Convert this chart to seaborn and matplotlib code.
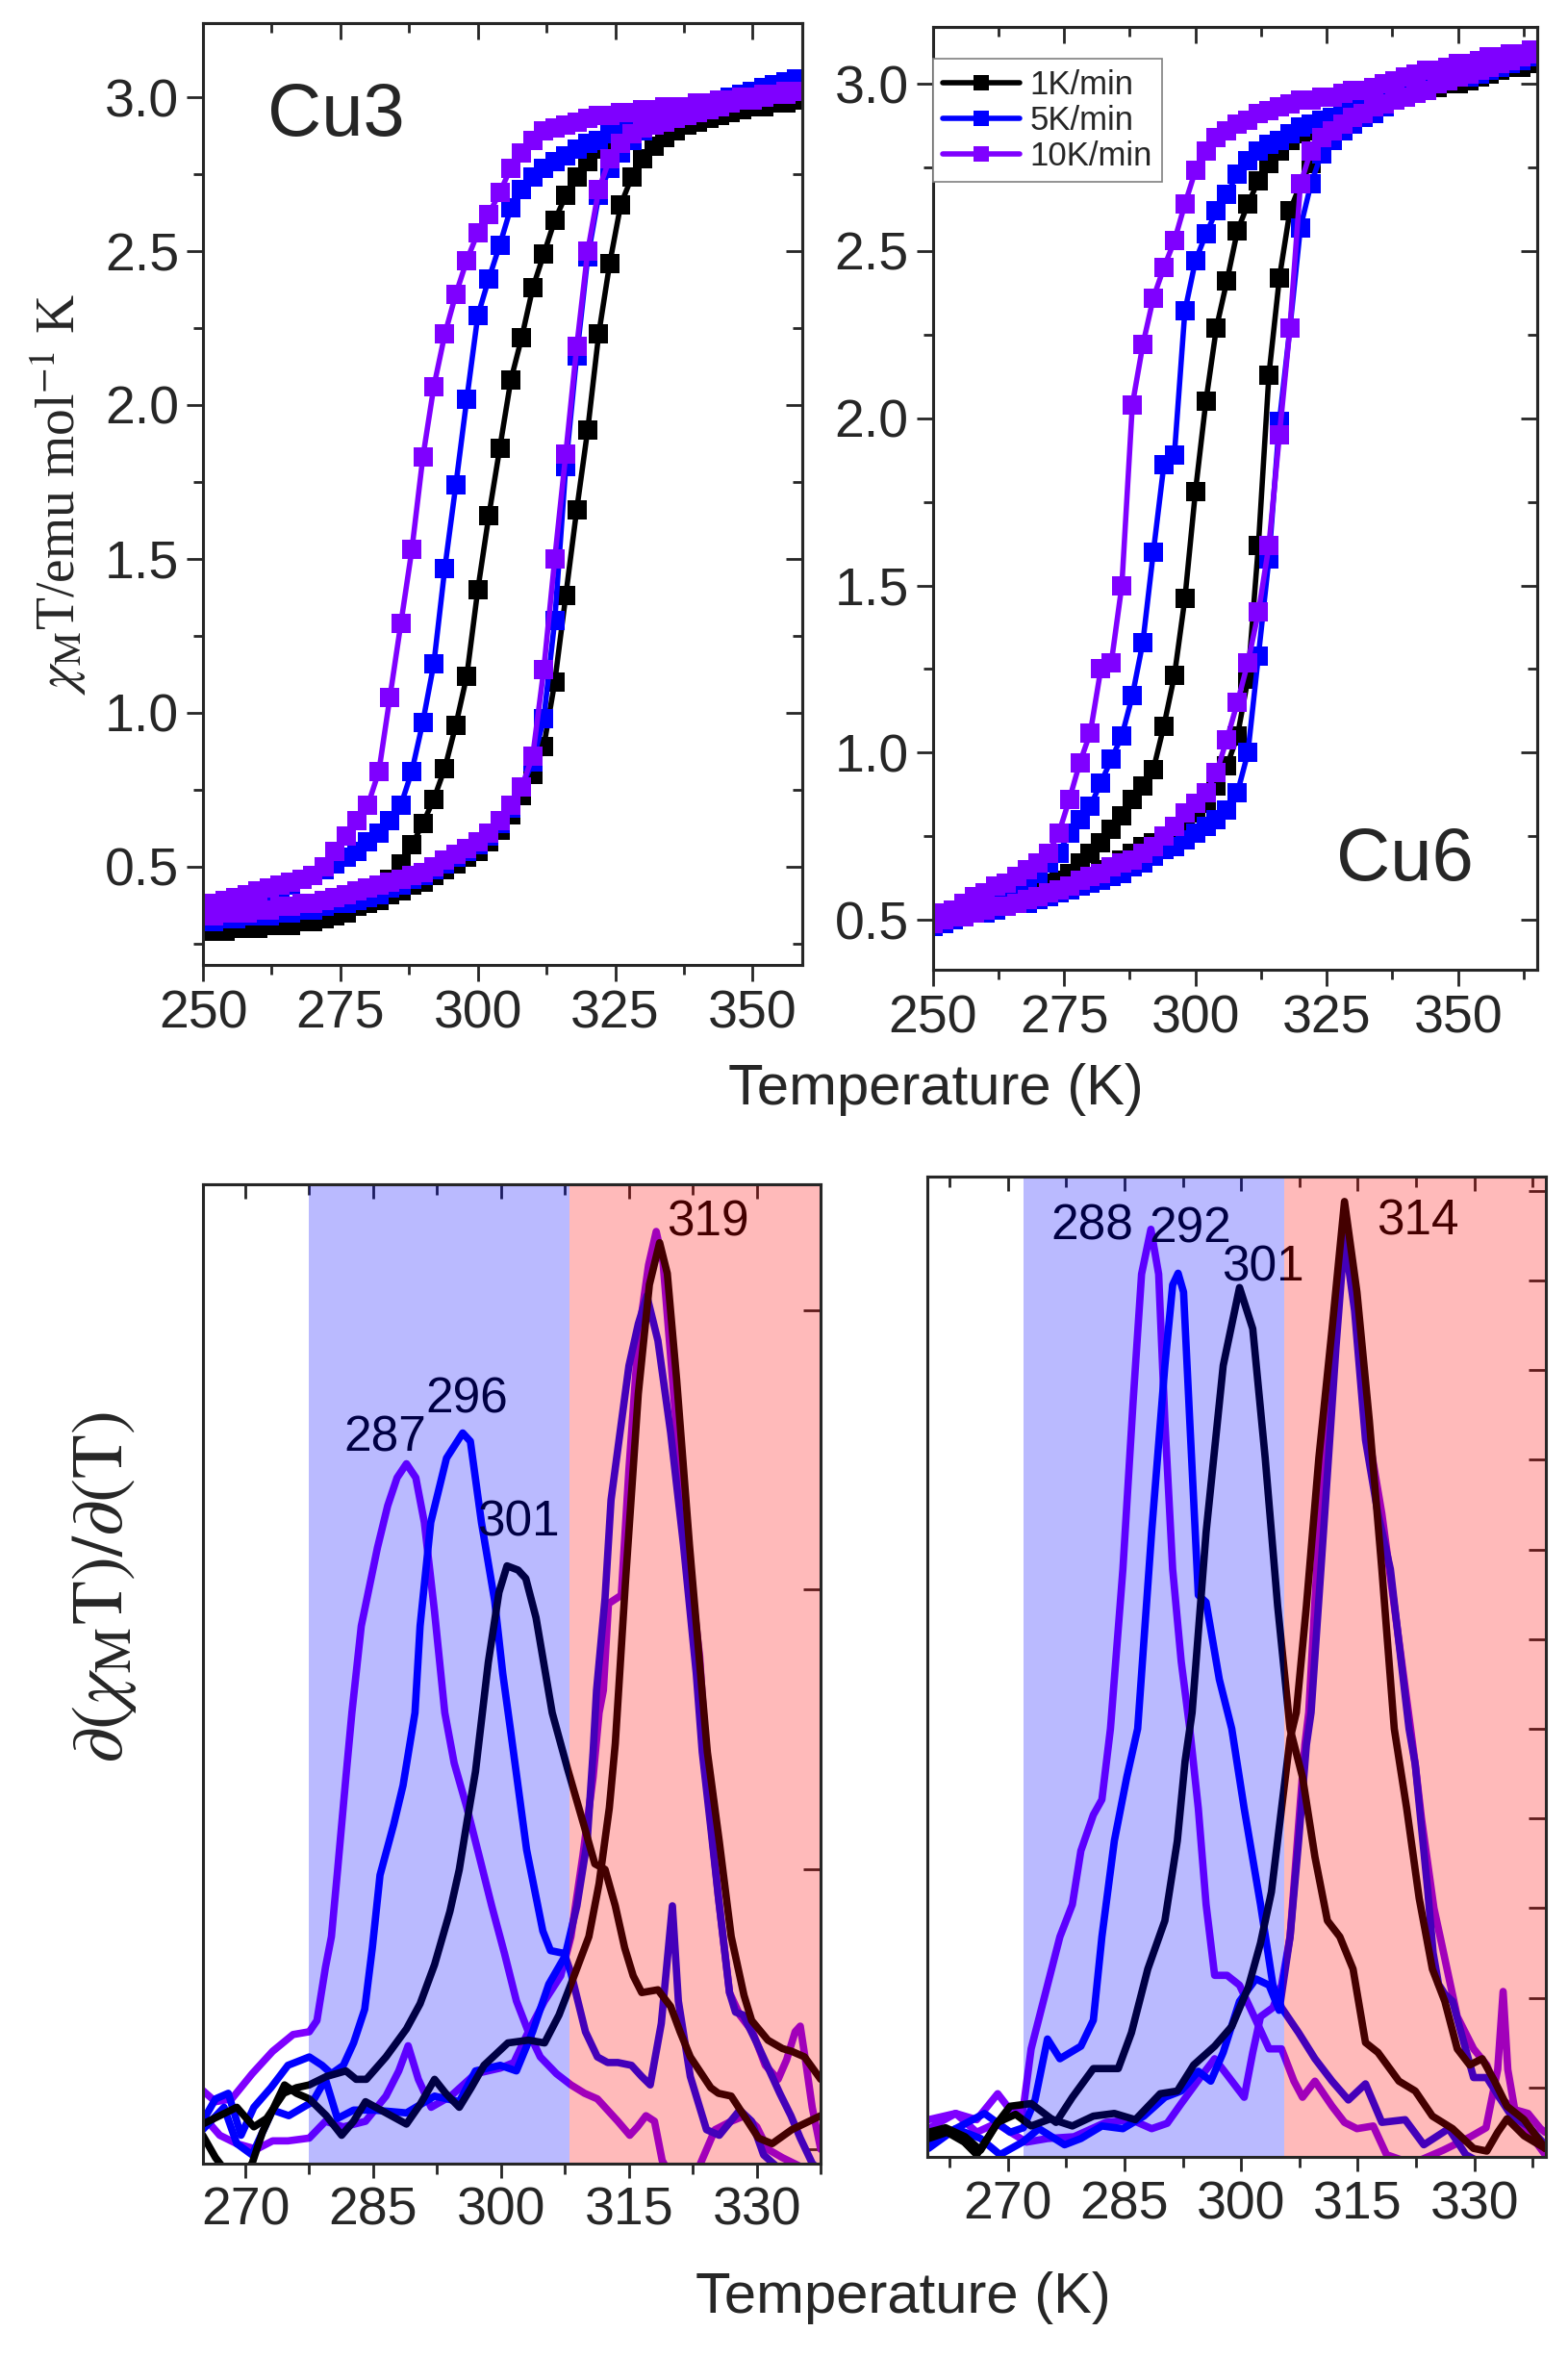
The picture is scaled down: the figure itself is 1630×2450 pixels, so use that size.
import matplotlib
matplotlib.use("Agg")
import matplotlib.pyplot as plt
from matplotlib.ticker import MultipleLocator, NullFormatter
import seaborn as sns

sns.set_style("ticks")
plt.rcParams['font.family'] = ['Liberation Sans', 'DejaVu Sans']
plt.rcParams['mathtext.fontset'] = 'stix'

# ---------------- top panels: chi_M T vs T ----------------
T_CU3 = [250, 252, 254, 256, 258, 260, 262, 264, 266, 268, 270, 272, 274, 276, 278, 280, 282, 284, 286, 288,
         290, 292, 294, 296, 298, 300, 302, 304, 306, 308, 310, 312, 314, 316, 318, 320, 322, 324, 326, 328,
         330, 332, 334, 336, 338, 340, 342, 344, 346, 348, 350, 352, 354, 356, 358]
cu3_k1_cool = [0.29, 0.29, 0.30, 0.30, 0.31, 0.31, 0.32, 0.33, 0.34, 0.34, 0.35, 0.36, 0.37, 0.38, 0.39, 0.40, 0.43, 0.46, 0.51, 0.57,
               0.64, 0.72, 0.82, 0.96, 1.12, 1.40, 1.64, 1.86, 2.08, 2.22, 2.38, 2.49, 2.60, 2.68, 2.74, 2.79, 2.83, 2.86, 2.88, 2.89,
               2.91, 2.92, 2.93, 2.94, 2.95, 2.95, 2.96, 2.96, 2.97, 2.97, 2.97, 2.98, 2.98, 2.98, 2.99]
cu3_k5_cool = [0.35, 0.36, 0.37, 0.38, 0.39, 0.40, 0.41, 0.43, 0.44, 0.46, 0.47, 0.49, 0.51, 0.53, 0.55, 0.58, 0.61, 0.65, 0.70, 0.81,
               0.97, 1.16, 1.47, 1.74, 2.02, 2.29, 2.41, 2.52, 2.64, 2.70, 2.74, 2.77, 2.79, 2.81, 2.83, 2.85, 2.86, 2.88, 2.89, 2.91,
               2.92, 2.93, 2.94, 2.95, 2.96, 2.97, 2.98, 2.99, 3.00, 3.01, 3.02, 3.03, 3.04, 3.05, 3.06]
cu3_k10_cool = [0.37, 0.38, 0.39, 0.40, 0.41, 0.42, 0.43, 0.44, 0.45, 0.46, 0.47, 0.50, 0.55, 0.60, 0.65, 0.70, 0.81, 1.05, 1.29, 1.53,
                1.83, 2.06, 2.23, 2.36, 2.47, 2.56, 2.62, 2.69, 2.77, 2.82, 2.86, 2.89, 2.90, 2.91, 2.92, 2.93, 2.94, 2.94, 2.95, 2.95,
                2.96, 2.96, 2.97, 2.97, 2.97, 2.98, 2.98, 2.99, 2.99, 3.00, 3.00, 3.01, 3.01, 3.02, 3.02]
cu3_k1_heat = [0.29, 0.29, 0.29, 0.30, 0.30, 0.30, 0.31, 0.31, 0.31, 0.32, 0.32, 0.33, 0.34, 0.35, 0.37, 0.38, 0.39, 0.41, 0.42, 0.44,
               0.45, 0.47, 0.49, 0.51, 0.53, 0.55, 0.58, 0.62, 0.67, 0.73, 0.80, 0.89, 1.10, 1.38, 1.66, 1.92, 2.23, 2.46, 2.65, 2.74,
               2.80, 2.84, 2.87, 2.89, 2.91, 2.92, 2.93, 2.94, 2.95, 2.96, 2.97, 2.97, 2.98, 2.99, 3.00]
cu3_k5_heat = [0.32, 0.32, 0.33, 0.33, 0.34, 0.34, 0.34, 0.35, 0.35, 0.36, 0.36, 0.37, 0.38, 0.38, 0.39, 0.40, 0.41, 0.43, 0.44, 0.46,
               0.47, 0.49, 0.51, 0.53, 0.55, 0.57, 0.60, 0.64, 0.69, 0.76, 0.84, 0.98, 1.30, 1.80, 2.16, 2.48, 2.68, 2.77, 2.82, 2.86,
               2.89, 2.91, 2.93, 2.95, 2.96, 2.97, 2.98, 2.99, 3.00, 3.01, 3.02, 3.03, 3.04, 3.05, 3.06]
cu3_k10_heat = [0.34, 0.34, 0.35, 0.35, 0.35, 0.36, 0.36, 0.37, 0.37, 0.38, 0.38, 0.39, 0.40, 0.41, 0.42, 0.43, 0.44, 0.45, 0.46, 0.47,
                0.48, 0.50, 0.52, 0.54, 0.56, 0.58, 0.61, 0.65, 0.70, 0.76, 0.86, 1.14, 1.50, 1.84, 2.19, 2.50, 2.70, 2.80, 2.85, 2.88,
                2.90, 2.91, 2.92, 2.93, 2.94, 2.95, 2.96, 2.97, 2.98, 2.99, 2.99, 3.00, 3.01, 3.01, 3.02]

T_CU6 = [250, 252, 254, 256, 258, 260, 262, 264, 266, 268, 270, 272, 274, 276, 278, 280, 282, 284, 286, 288,
         290, 292, 294, 296, 298, 300, 302, 304, 306, 308, 310, 312, 314, 316, 318, 320, 322, 324, 326, 328,
         330, 332, 334, 336, 338, 340, 342, 344, 346, 348, 350, 352, 354, 356, 358, 360, 362, 364]
cu6_k1_cool = [0.50, 0.51, 0.52, 0.53, 0.54, 0.55, 0.56, 0.57, 0.58, 0.59, 0.60, 0.61, 0.62, 0.64, 0.67, 0.70, 0.73, 0.77, 0.81, 0.86,
               0.90, 0.95, 1.08, 1.23, 1.46, 1.78, 2.05, 2.27, 2.41, 2.56, 2.64, 2.71, 2.76, 2.80, 2.83, 2.85, 2.86, 2.88, 2.89, 2.90,
               2.91, 2.92, 2.93, 2.94, 2.96, 2.97, 2.97, 2.98, 2.99, 3.00, 3.00, 3.01, 3.02, 3.03, 3.04, 3.05, 3.05, 3.06]
cu6_k5_cool = [0.50, 0.51, 0.52, 0.53, 0.55, 0.56, 0.57, 0.59, 0.60, 0.62, 0.64, 0.67, 0.70, 0.76, 0.80, 0.84, 0.91, 0.98, 1.05, 1.17,
               1.33, 1.60, 1.86, 1.89, 2.32, 2.47, 2.55, 2.62, 2.67, 2.73, 2.77, 2.80, 2.82, 2.83, 2.85, 2.87, 2.88, 2.89, 2.90, 2.92,
               2.93, 2.94, 2.95, 2.96, 2.97, 2.98, 2.98, 2.99, 3.00, 3.01, 3.02, 3.02, 3.03, 3.04, 3.05, 3.06, 3.07, 3.08]
cu6_k10_cool = [0.50, 0.52, 0.53, 0.55, 0.57, 0.58, 0.60, 0.61, 0.63, 0.65, 0.67, 0.70, 0.76, 0.86, 0.97, 1.06, 1.25, 1.27, 1.50, 2.04,
                2.22, 2.36, 2.45, 2.53, 2.64, 2.74, 2.80, 2.84, 2.86, 2.88, 2.89, 2.91, 2.92, 2.93, 2.94, 2.95, 2.95, 2.96, 2.96, 2.97,
                2.98, 2.98, 2.99, 3.00, 3.01, 3.02, 3.03, 3.04, 3.04, 3.05, 3.06, 3.06, 3.07, 3.08, 3.08, 3.09, 3.09, 3.10]
cu6_k1_heat = [0.49, 0.50, 0.51, 0.52, 0.52, 0.53, 0.54, 0.55, 0.55, 0.56, 0.57, 0.58, 0.59, 0.61, 0.62, 0.63, 0.65, 0.66, 0.68, 0.70,
               0.72, 0.73, 0.75, 0.77, 0.79, 0.82, 0.85, 0.90, 0.96, 1.05, 1.22, 1.62, 2.13, 2.42, 2.62, 2.70, 2.76, 2.81, 2.85, 2.88,
               2.90, 2.92, 2.93, 2.95, 2.96, 2.98, 2.98, 2.99, 3.00, 3.00, 3.01, 3.02, 3.02, 3.03, 3.04, 3.05, 3.06, 3.07]
cu6_k5_heat = [0.48, 0.49, 0.50, 0.51, 0.52, 0.52, 0.53, 0.54, 0.55, 0.55, 0.56, 0.57, 0.58, 0.59, 0.60, 0.61, 0.62, 0.63, 0.64, 0.66,
               0.67, 0.69, 0.71, 0.72, 0.74, 0.76, 0.78, 0.80, 0.83, 0.88, 1.00, 1.29, 1.58, 1.99, 2.27, 2.57, 2.70, 2.79, 2.83, 2.86,
               2.88, 2.90, 2.91, 2.93, 2.95, 2.97, 2.98, 2.99, 3.00, 3.01, 3.02, 3.02, 3.03, 3.04, 3.05, 3.06, 3.07, 3.08]
cu6_k10_heat = [0.49, 0.50, 0.51, 0.51, 0.52, 0.53, 0.54, 0.54, 0.55, 0.56, 0.57, 0.58, 0.59, 0.60, 0.62, 0.63, 0.64, 0.66, 0.67, 0.68,
                0.70, 0.72, 0.75, 0.78, 0.82, 0.85, 0.88, 0.94, 1.04, 1.15, 1.27, 1.42, 1.62, 1.95, 2.27, 2.70, 2.80, 2.84, 2.86, 2.88,
                2.90, 2.91, 2.93, 2.94, 2.95, 2.96, 2.97, 2.98, 3.00, 3.01, 3.02, 3.03, 3.04, 3.05, 3.06, 3.07, 3.08, 3.09]

# ---------------- bottom panels: d(chi T)/dT (arb. units) ----------------
# Cu3
d3_k1_cool_T = [265, 267, 269, 271, 272.5, 274.5, 276, 277.5, 279.5, 281.8, 283, 284.2, 286.5, 288.9, 290.5, 292.2, 294, 295.1,
                296, 297, 298.5, 299.75, 300.7, 302, 302.9, 304.1, 306, 307.8, 309.7, 311, 312.2, 313.4, 314.5, 315.5, 316.5,
                318.4, 319.9, 321, 322.2, 324.6, 325.5, 327, 328.5, 330.2, 331.8, 334.1, 337.5]
d3_k1_cool = [0.09, 0.12, 0.15, 0.08, 0.11, 0.20, 0.22, 0.23, 0.26, 0.28, 0.25, 0.25, 0.33, 0.43, 0.52, 0.66, 0.85, 1.00,
              1.17, 1.35, 1.74, 1.99, 2.085, 2.07, 2.04, 1.90, 1.56, 1.36, 1.16, 1.02, 1.00, 0.87, 0.72, 0.62, 0.56,
              0.57, 0.51, 0.42, 0.33, 0.22, 0.20, 0.19, 0.12, 0.04, 0.02, 0.07, 0.12]
d3_k1_heat_T = [265, 266.5, 268, 269.5, 270.8, 272, 273.5, 274.6, 276, 277.5, 279.5, 281.3, 282.7, 284.1, 286.5, 288.9, 290.5,
                292.2, 293.5, 295.1, 296.5, 298, 300.8, 303.2, 305.1, 306.8, 308.2, 310.3, 311.5, 312.7, 313.4, 314.6, 316.1,
                317.4, 318.6, 319.5, 320.6, 322.1, 323.4, 324.2, 325.6, 327, 328.5, 329.4, 331.3, 333, 334.1, 335.6, 337.5]
d3_k1_heat = [0.05, -0.03, -0.09, -0.10, -0.05, 0.06, 0.16, 0.23, 0.20, 0.18, 0.12, 0.05, 0.10, 0.17, 0.13, 0.09, 0.16,
              0.25, 0.20, 0.15, 0.22, 0.30, 0.38, 0.39, 0.38, 0.48, 0.59, 0.76, 0.95, 1.22, 1.45, 2.03, 2.70,
              3.09, 3.24, 3.13, 2.75, 2.16, 1.70, 1.42, 1.10, 0.76, 0.55, 0.46, 0.39, 0.36, 0.35, 0.33, 0.25]
d3_k5_cool_T = [265, 266.5, 268, 269.5, 271, 273, 275, 277.5, 279, 280.1, 281.5, 282.7, 284, 284.9, 285.8, 287.4, 288.5, 289.9,
                290.5, 291.75, 293.6, 295.5, 296.4, 297.7, 299.25, 300.2, 301.1, 303, 304.9, 305.8, 307.4, 308.2, 309.9,
                311.3, 312.5, 313.7, 315.3, 316.5, 317.5, 318.8, 320.1, 320.8, 322.2, 324.1, 325.6, 328, 329.4, 330.8, 333,
                335, 337.5]
d3_k5_cool = [0.10, 0.18, 0.20, 0.05, 0.15, 0.22, 0.30, 0.33, 0.30, 0.27, 0.30, 0.38, 0.50, 0.72, 0.98, 1.16, 1.30, 1.56,
              1.87, 2.24, 2.47, 2.56, 2.53, 2.24, 1.96, 1.70, 1.50, 1.07, 0.78, 0.71, 0.70, 0.63, 0.42,
              0.33, 0.31, 0.31, 0.30, 0.26, 0.23, 0.45, 0.87, 0.53, 0.26, 0.07, 0.05, 0.14, 0.10, -0.02, -0.08,
              -0.08, -0.10]
d3_k5_heat_T = [265, 267.5, 269, 270.8, 273.2, 275.1, 277.9, 279.4, 280.8, 282.7, 285.1, 288.9, 292.2, 295.1, 297, 299.9,
                301.8, 303.7, 305.6, 307.5, 308.9, 310.1, 310.8, 311.2, 312.2, 312.9, 315, 316.1, 317.1, 318.4, 319.9, 321.4,
                322.9, 323.6, 324.6, 325.5, 326.8, 327.5, 328.4, 330, 331.5, 332.7, 334, 335.1, 336.5, 337.5]
d3_k5_heat = [0.07, 0.15, 0.02, -0.02, 0.14, 0.12, 0.17, 0.25, 0.11, 0.14, 0.14, 0.13, 0.19, 0.17, 0.28, 0.30,
              0.28, 0.42, 0.59, 0.69, 0.87, 1.10, 1.42, 1.64, 1.97, 2.32, 2.80, 2.95, 3.05, 2.89, 2.56, 2.16,
              1.70, 1.42, 1.15, 0.90, 0.56, 0.49, 0.48, 0.38, 0.28, 0.20, 0.12, 0.04, -0.05, -0.08]
d3_k10_cool_T = [265, 266.5, 268.4, 270.8, 273.2, 275.6, 277.5, 278.4, 279.4, 280.1, 280.8, 281.8, 282.5, 283.6, 285.5, 286.7,
                 287.8, 288.9, 290, 291, 292.2, 293.4, 294.5, 296, 297.5, 298.9, 300.4, 301.8, 303.2, 304.6, 306.5, 308.2,
                 309.8, 311.3, 312.5, 313.7, 315.1, 316, 317, 318, 318.9, 320, 322.7, 325.1, 327, 328.6, 330, 331.3, 333,
                 335, 337.5]
d3_k10_cool = [0.21, 0.17, 0.18, 0.27, 0.35, 0.41, 0.42, 0.46, 0.65, 0.76, 0.99, 1.33, 1.56, 1.87, 2.15, 2.30,
               2.40, 2.45, 2.40, 2.24, 1.92, 1.56, 1.38, 1.22, 1.04, 0.87, 0.70, 0.53, 0.42, 0.33, 0.27, 0.23,
               0.20, 0.18, 0.14, 0.10, 0.05, 0.08, 0.12, 0.10, -0.04, -0.10, -0.10, 0.07, 0.10, 0.12, 0.08, 0.00, -0.03,
               -0.06, -0.10]
d3_k10_heat_T = [265, 267, 269, 271.3, 273.2, 275, 277.5, 279.4, 281.5, 284.1, 286.5, 288, 289.1, 290.3, 291.8, 294.1, 297,
                 299.9, 301.5, 303.2, 305.1, 307, 308.2, 309.6, 310.8, 311.5, 312, 312.6, 313.1, 314.1, 315, 316.1, 317.3,
                 318.2, 319, 320.3, 321.8, 323.3, 324.5, 325.5, 326.8, 328, 329.5, 331, 332.5, 333.5, 334.5, 335.1, 335.8,
                 336.5, 337.5]
d3_k10_heat = [0.12, 0.05, 0.02, 0.00, 0.03, 0.03, 0.04, 0.10, 0.08, 0.10, 0.19, 0.28, 0.37, 0.25, 0.15, 0.19, 0.27,
               0.29, 0.31, 0.42, 0.53, 0.62, 0.76, 1.05, 1.33, 1.56, 1.64, 1.95, 1.96, 1.98, 2.43, 2.90, 3.16,
               3.28, 3.17, 2.68, 2.16, 1.76, 1.20, 0.90, 0.56, 0.48, 0.42, 0.30, 0.25, 0.32, 0.42, 0.44, 0.30,
               0.15, 0.00]

# Cu6
d6_k1_cool_T = [259.8, 262.2, 264.4, 266, 268.7, 270.3, 273, 276.2, 278.3, 281, 284.2, 285.9, 288, 290.2, 291.8, 292.8, 293.7,
                295.5, 297.7, 299.8, 301.5, 303.1, 304.7, 306.3, 307.9, 309.5, 311.1, 312.7, 314.4, 316, 317.6, 320.3, 322.4,
                324.6, 327.2, 329.9, 331.6, 333, 334.2, 336.4, 339.1]
d6_k1_cool = [-0.57, -0.50, -0.61, -0.75, -0.39, -0.21, -0.18, -0.39, -0.11, 0.21, 0.21, 0.61, 1.32, 1.86, 2.75, 3.64, 4.18,
              6.19, 8.05, 8.92, 8.46, 7.02, 5.37, 4.00, 3.46, 2.57, 1.86, 1.68, 1.32, 0.50, 0.39, 0.07, -0.04,
              -0.32, -0.46, -0.68, -0.71, -0.50, -0.35, -0.54, -0.68]
d6_k1_heat_T = [259.8, 262, 264.5, 266.5, 268.7, 271, 273, 275.5, 278.3, 281, 283.7, 286.4, 289.6, 291.8, 293.9, 296.6, 298.8,
                300.9, 302.5, 303.9, 305.2, 306.3, 307.1, 308.4, 310, 311.7, 313.3, 314.9, 316.5, 318.1, 319.7, 321.3, 322.9,
                324.6, 326.2, 327.8, 329.4, 331, 332.6, 334.2, 336.4, 339.1]
d6_k1_heat = [-0.50, -0.45, -0.55, -0.70, -0.39, -0.30, -0.43, -0.35, -0.43, -0.32, -0.29, -0.36, -0.07, -0.04, 0.25, 0.46, 0.68,
              1.11, 1.61, 2.18, 3.11, 3.89, 4.18, 5.37, 7.02, 8.46, 9.88, 8.87, 7.43, 5.78, 4.00, 3.11, 2.11,
              1.32, 0.96, 0.43, 0.25, 0.32, 0.07, -0.21, -0.36, -0.68]
d6_k5_cool_T = [259.8, 263.3, 267, 270.3, 272, 273.5, 275.1, 276.7, 279.4, 281, 282.1, 283.7, 285.3, 286.7, 288.5, 290.2, 291.2,
                291.9, 292.6, 293.4, 294.5, 295.5, 297.2, 298.8, 300.4, 302.5, 304.1, 305.2, 307.4, 309.5, 311.7, 313.8, 316,
                318.1, 321.1, 323.5, 326.7, 328.9, 331, 334, 337, 339.1]
d6_k5_cool = [-0.68, -0.46, -0.29, -0.50, -0.45, -0.14, 0.54, 0.32, 0.46, 0.75, 1.68, 2.75, 3.46, 4.00, 6.20, 8.05, 8.95,
              9.08, 8.87, 7.43, 5.49, 5.41, 4.55, 4.00, 3.11, 2.04, 1.14, 0.89, 0.61, 0.32, 0.07, -0.14, 0.04,
              -0.39, -0.36, -0.64, -0.46, -0.75, -0.85, -0.85, -0.85, -0.85]
d6_k5_heat_T = [259.8, 263.3, 266.5, 269, 271.9, 274, 277.3, 279.4, 282.1, 284.8, 287.5, 290.2, 292.3, 294.5, 296.1, 297.7,
                299.8, 301.9, 303.6, 304.9, 306.3, 307.4, 308.4, 309, 310.6, 312.2, 313.3, 314.6, 316, 317.6, 319.2, 320.3,
                321.6, 322.4, 323.2, 324, 324.7, 325.4, 326.2, 327.2, 328.3, 329.9, 331.6, 333.2, 334.8, 336.9, 339.1]
d6_k5_heat = [-0.61, -0.46, -0.57, -0.75, -0.61, -0.46, -0.64, -0.57, -0.43, -0.46, -0.32, -0.11, -0.04, 0.18, 0.07, 0.39,
              0.96, 1.21, 1.14, 0.86, 1.68, 2.75, 3.82, 4.18, 6.20, 8.25, 9.48, 8.66, 7.22, 6.40, 5.78, 4.96,
              4.00, 3.60, 2.90, 2.20, 1.50, 1.15, 1.04, 0.96, 0.61, 0.11, 0.11, -0.11, -0.32, -0.43, -0.64]
d6_k10_cool_T = [259.8, 263.3, 266, 268.7, 270.3, 271.9, 273, 275.1, 276.7, 278.3, 279.4, 281, 282.1, 283.2, 284.8, 286.1,
                 287.2, 288.4, 289.4, 290.2, 291.2, 292.3, 293.4, 294.5, 295.5, 296.6, 298.2, 299.8, 301.9, 303.6, 305.2,
                 306.8, 307.9, 309.5, 311.7, 313.3, 314.9, 317, 318.7, 322, 326, 329.5, 331.5, 333, 333.7, 334.3, 335.5,
                 337, 339.1]
d6_k10_cool = [-0.46, -0.29, -0.36, -0.07, -0.25, -0.29, 0.43, 1.14, 1.68, 2.04, 2.64, 3.04, 3.21, 4.00, 5.78, 7.63,
               9.07, 9.57, 9.07, 7.43, 5.78, 4.75, 4.00, 3.11, 2.04, 1.25, 1.25, 1.14, 0.75, 0.43, 0.43,
               0.07, -0.11, 0.07, -0.21, -0.39, -0.46, -0.43, -0.75, -0.85, -0.70, -0.55, -0.45, 0.20, 1.07, 0.20, -0.40,
               -0.50, -0.75]
d6_k10_heat_T = [259.8, 263.3, 266, 268.5, 272.4, 275.1, 278.5, 282.6, 285.9, 288.5, 290.5, 292.3, 295, 296.6, 298.2, 300.4,
                 301.5, 302.5, 304.1, 305.2, 306.3, 307.4, 308.2, 308.7, 310, 311.7, 313.3, 314.9, 316.5, 318.1, 319.7,
                 321.8, 322.4, 323.2, 324, 324.8, 325.6, 327.8, 329.9, 331.6, 333.2, 335.3, 336.9, 338.5, 339.1]
d6_k10_heat = [-0.36, -0.29, -0.50, -0.40, -0.61, -0.57, -0.55, -0.39, -0.36, -0.46, -0.40, -0.18, 0.14, 0.32, 0.14, -0.11,
               0.39, 0.79, 0.89, 1.14, 1.68, 2.93, 3.82, 4.18, 6.20, 8.05, 9.60, 8.66, 7.22, 6.40, 5.37,
               4.00, 3.60, 3.00, 2.50, 2.00, 1.68, 0.79, 0.43, 0.25, -0.11, -0.25, -0.29, -0.46, -0.50]

RATES = ['1K/min', '5K/min', '10K/min']
COLORS = {'1K/min': '#000000', '5K/min': '#0000FF', '10K/min': '#7F00FF'}

cu3_peaks = [('287', 286.4, 2.54), ('296', 296.0, 2.68), ('301', 302.0, 2.24), ('319', 324.3, 3.31)]
cu6_peaks = [('288', 280.8, 9.60), ('292', 293.4, 9.57), ('301', 302.8, 9.14), ('314', 322.7, 9.65)]

# ---------------- figure ----------------
W, H = 1631, 2450
fig = plt.figure(figsize=(W / 100, H / 100), dpi=100)

TICK_FS = 40
LABEL_FS = 43
SPINE_W = 2.2


def style_top(ax, xlim, ylim):
    ax.set_xlim(*xlim)
    ax.set_ylim(*ylim)
    ax.xaxis.set_major_locator(MultipleLocator(25))
    ax.xaxis.set_minor_locator(MultipleLocator(12.5))
    ax.yaxis.set_major_locator(MultipleLocator(0.5))
    ax.yaxis.set_minor_locator(MultipleLocator(0.25))
    ax.yaxis.set_major_formatter(plt.FormatStrFormatter('%.1f'))
    ax.tick_params(which='major', direction='out', length=12, width=2, labelsize=TICK_FS, pad=6)
    ax.tick_params(which='minor', direction='out', length=7, width=2)
    for s in ax.spines.values():
        s.set_linewidth(SPINE_W)
    ax.set_xlabel('')
    ax.set_ylabel('')
    # mirrored inward ticks on top / right
    top = ax.secondary_xaxis('top')
    right = ax.secondary_yaxis('right')
    top.xaxis.set_major_locator(MultipleLocator(25))
    top.xaxis.set_minor_locator(MultipleLocator(12.5))
    top.xaxis.set_major_formatter(NullFormatter())
    right.yaxis.set_major_locator(MultipleLocator(0.5))
    right.yaxis.set_minor_locator(MultipleLocator(0.25))
    right.yaxis.set_major_formatter(NullFormatter())
    for sec in (top, right):
        sec.tick_params(which='major', direction='in', length=12, width=2)
        sec.tick_params(which='minor', direction='in', length=7, width=2)
        for s in sec.spines.values():
            s.set_linewidth(SPINE_W)


def draw_top(ax, T, cool, heat, with_label):
    for rate in RATES:
        for ys, lab in [(cool[rate], rate if with_label else None), (heat[rate], None)]:
            sns.lineplot(x=T, y=ys, ax=ax, color=COLORS[rate], marker='s', markersize=14.5,
                         markeredgewidth=0, linewidth=4, estimator=None, label=lab)


ax_tl = fig.add_axes([0.1294, 0.5905, 0.3818, 0.3996])
draw_top(ax_tl, T_CU3,
         {'1K/min': cu3_k1_cool, '5K/min': cu3_k5_cool, '10K/min': cu3_k10_cool},
         {'1K/min': cu3_k1_heat, '5K/min': cu3_k5_heat, '10K/min': cu3_k10_heat}, False)
style_top(ax_tl, (250, 359), (0.18, 3.24))
if ax_tl.get_legend() is not None:
    ax_tl.get_legend().remove()
fig.text(349.5 / W, 1 - 121 / H, 'Cu3', fontsize=56, ha='center', va='center')
ax_tl.set_ylabel(r'$\chi_{\mathrm{M}}$T/emu mol$^{-1}$ K', fontsize=40, labelpad=12,
                 fontfamily=['Liberation Serif'])

ax_tr = fig.add_axes([0.5945, 0.5884, 0.3850, 0.4002])
draw_top(ax_tr, T_CU6,
         {'1K/min': cu6_k1_cool, '5K/min': cu6_k5_cool, '10K/min': cu6_k10_cool},
         {'1K/min': cu6_k1_heat, '5K/min': cu6_k5_heat, '10K/min': cu6_k10_heat}, True)
style_top(ax_tr, (250, 365), (0.35, 3.17))
leg = ax_tr.legend(loc='upper left', bbox_to_anchor=(0.0, 0.966), borderaxespad=0, fontsize=25,
                   handlelength=2.3, labelspacing=0.12, handletextpad=0.3, borderpad=0.3,
                   fancybox=False, framealpha=1, edgecolor='#808080', markerscale=0.8)
leg.get_frame().set_linewidth(1.2)
fig.text(1460 / W, 1 - 895 / H, 'Cu6', fontsize=56, ha='center', va='center')
fig.text(973 / W, 1 - 1132 / H, 'Temperature (K)', fontsize=LABEL_FS, ha='center', va='center')


# ---------------- bottom panels ----------------
def draw_bottom(ax, curves, xlim, ylim, blue_span, red_start, peaks):
    for rate in ['10K/min', '5K/min', '1K/min']:
        for T, y in curves[rate]:
            sns.lineplot(x=T, y=y, ax=ax, color=COLORS[rate], linewidth=5.5, estimator=None, zorder=1,
                         solid_joinstyle='round')
    ax.axvspan(blue_span[0], blue_span[1], color=(0, 0, 1), alpha=0.27, lw=0, zorder=2)
    ax.axvspan(red_start, xlim[1] + 5, color=(1, 0, 0), alpha=0.27, lw=0, zorder=2)
    for txt, x, y in peaks:
        ax.text(x, y, txt, fontsize=37, ha='center', va='center', color='black', zorder=1.8)
    ax.set_xlim(*xlim)
    ax.set_ylim(*ylim)
    ax.set_xlabel('')
    ax.set_ylabel('')
    ax.xaxis.set_major_locator(MultipleLocator(15))
    ax.xaxis.set_minor_locator(MultipleLocator(7.5))
    ax.yaxis.set_major_locator(MultipleLocator(1))
    ax.yaxis.tick_right()
    ax.tick_params(axis='y', which='both', direction='in', length=13, width=2, labelright=False, left=False)
    ax.tick_params(axis='x', which='major', direction='out', length=11, width=2, labelsize=TICK_FS, pad=6)
    ax.tick_params(axis='x', which='minor', direction='out', length=8, width=2)
    for s in ax.spines.values():
        s.set_linewidth(SPINE_W)
        s.set_zorder(3)
    top = ax.secondary_xaxis('top')
    top.xaxis.set_major_locator(MultipleLocator(15))
    top.xaxis.set_minor_locator(MultipleLocator(7.5))
    top.xaxis.set_major_formatter(NullFormatter())
    top.tick_params(which='major', direction='in', length=11, width=2)
    top.tick_params(which='minor', direction='in', length=8, width=2)
    for s in top.spines.values():
        s.set_linewidth(SPINE_W)


ax_bl = fig.add_axes([0.1292, 0.0822, 0.3939, 0.4155])
draw_bottom(ax_bl,
            {'1K/min': [(d3_k1_cool_T, d3_k1_cool), (d3_k1_heat_T, d3_k1_heat)],
             '5K/min': [(d3_k5_cool_T, d3_k5_cool), (d3_k5_heat_T, d3_k5_heat)],
             '10K/min': [(d3_k10_cool_T, d3_k10_cool), (d3_k10_heat_T, d3_k10_heat)]},
            (265, 337.5), (-0.05, 3.45), (277.4, 308.0), 308.0, cu3_peaks)

ax_br = fig.add_axes([0.5908, 0.0847, 0.3945, 0.4162])
draw_bottom(ax_br,
            {'1K/min': [(d6_k1_cool_T, d6_k1_cool), (d6_k1_heat_T, d6_k1_heat)],
             '5K/min': [(d6_k5_cool_T, d6_k5_cool), (d6_k5_heat_T, d6_k5_heat)],
             '10K/min': [(d6_k10_cool_T, d6_k10_cool), (d6_k10_heat_T, d6_k10_heat)]},
            (259.6, 339.2), (-0.78, 10.16), (272.0, 305.5), 305.5, cu6_peaks)

fig.text(109 / W, 1 - 1650 / H, r'$\partial(\chi_{\mathrm{M}}\mathrm{T})/\partial(\mathrm{T})$',
         fontsize=54, rotation=90, ha='center', va='center')
fig.text(939 / W, 1 - 2388 / H, 'Temperature (K)', fontsize=LABEL_FS, ha='center', va='center')

fig.savefig('out.png', dpi=100)
